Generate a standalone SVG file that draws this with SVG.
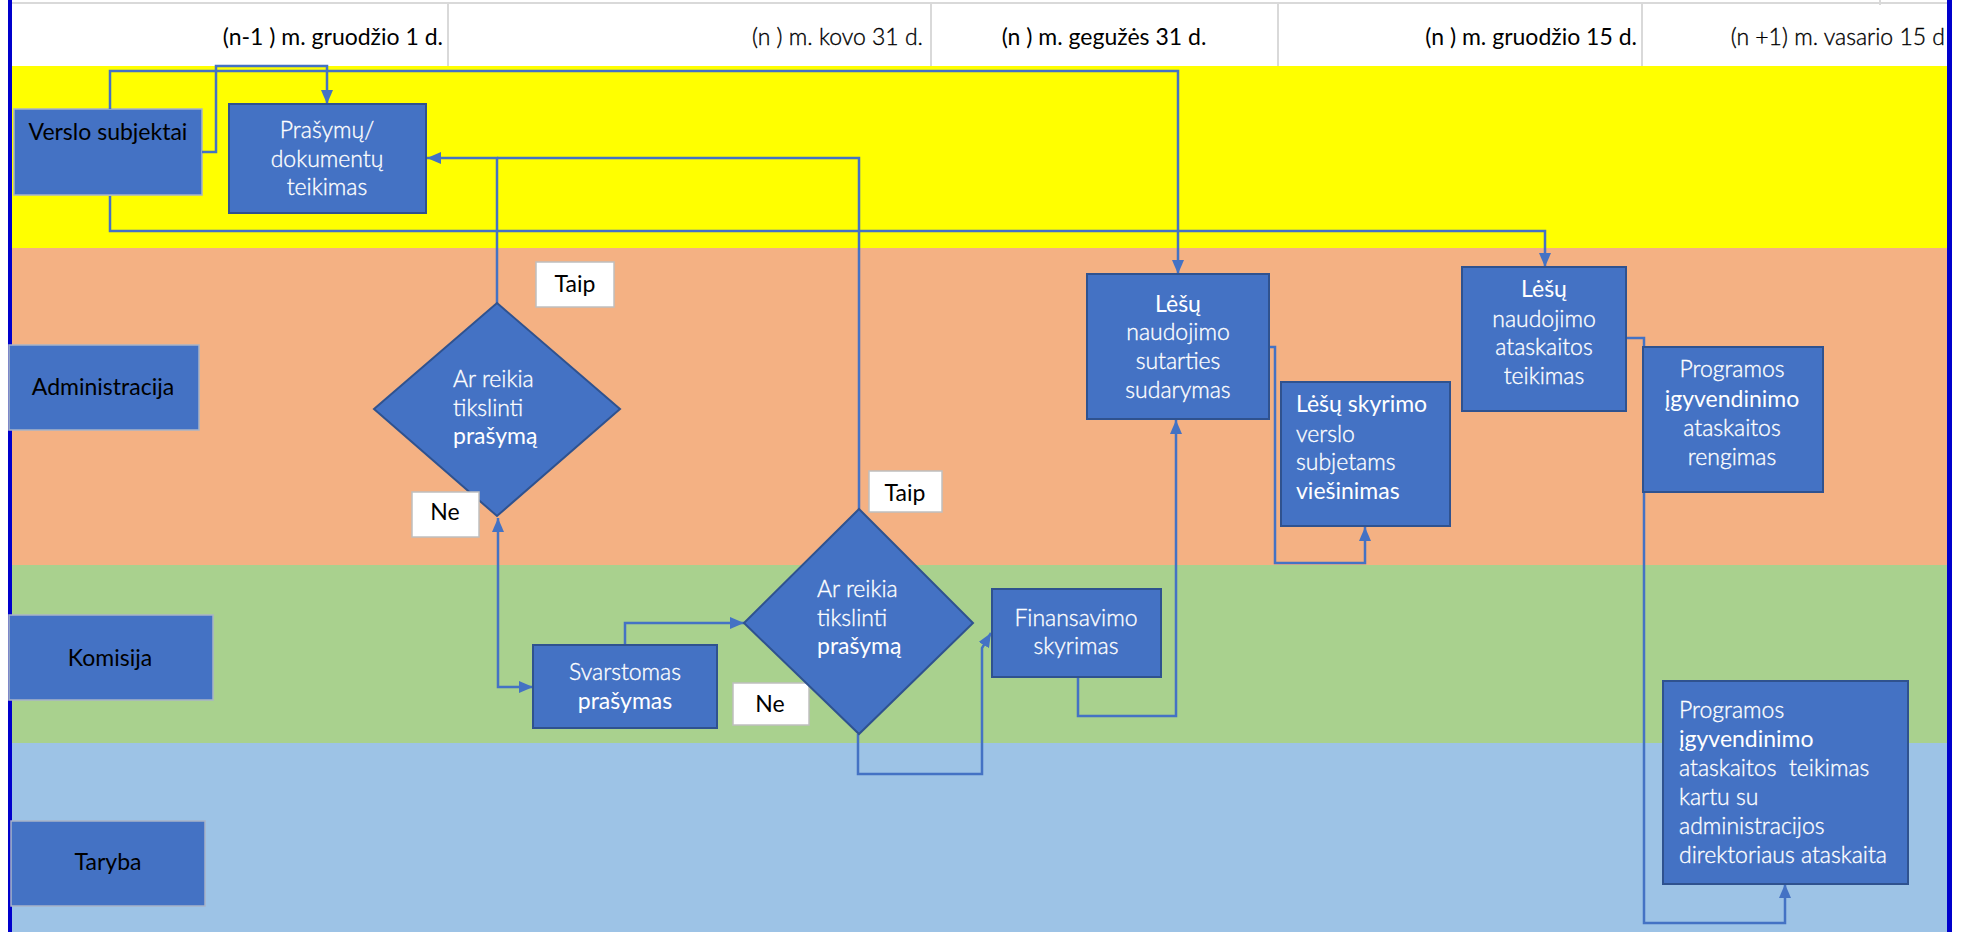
<svg xmlns="http://www.w3.org/2000/svg" width="1964" height="932" viewBox="0 0 1964 932">
<defs>
<marker id="arr" markerUnits="userSpaceOnUse" markerWidth="14" markerHeight="12" refX="14" refY="6" orient="auto-start-reverse">
<path d="M0,0 L14,6 L0,12 z" fill="#4472C4"/>
</marker>
</defs>
<style>
text{font-family:Lato,"Liberation Sans","DejaVu Sans",sans-serif;font-size:23px;font-weight:300;}
.b{font-weight:400;}
.hdr{fill:#000;}
.hdr.l{stroke:#000;stroke-width:0.35;}
.lane-lbl rect{fill:#4472C4;stroke:#a8b4c8;stroke-width:1.5;}
.lane-lbl text{fill:#000;text-anchor:middle;font-weight:400;}
.node rect,.node polygon{fill:#4472C4;stroke:#2F528F;stroke-width:2;}
.node text{fill:#fff;stroke:#fff;stroke-width:0.35;}
.node text.b{stroke:none;}
.c{text-anchor:middle;}
.tag rect{fill:#fff;stroke:#bfbfbf;stroke-width:1.5;}
.tag text{fill:#000;text-anchor:middle;font-weight:400;}
#connectors path{fill:none;stroke:#4472C4;stroke-width:2.5;}
</style>
<rect x="0" y="0" width="1964" height="932" fill="#fff"/>
<g id="lanes">
<rect x="11" y="66" width="1936" height="182" fill="#FFFF00"/>
<rect x="11" y="248" width="1936" height="317" fill="#F4B183"/>
<rect x="11" y="565" width="1936" height="178" fill="#A9D18E"/>
<rect x="11" y="743" width="1936" height="189" fill="#9DC3E6"/>
</g>
<g id="header">
<line x1="11" y1="3" x2="1947" y2="3" stroke="#d9d9d9" stroke-width="2"/>
<line x1="448" y1="3" x2="448" y2="66" stroke="#d9d9d9" stroke-width="2"/>
<line x1="931" y1="3" x2="931" y2="66" stroke="#d9d9d9" stroke-width="2"/>
<line x1="1278" y1="3" x2="1278" y2="66" stroke="#d9d9d9" stroke-width="2"/>
<line x1="1642" y1="3" x2="1642" y2="66" stroke="#d9d9d9" stroke-width="2"/>
<line x1="1880" y1="0" x2="1880" y2="5" stroke="#d9d9d9" stroke-width="2"/>
<text class="hdr b" x="443" y="45" text-anchor="end">(n-1 ) m. gruodžio 1 d.</text>
<text class="hdr l" x="923" y="45" text-anchor="end">(n ) m. kovo 31 d.</text>
<text class="hdr b" x="1104" y="45" text-anchor="middle">(n ) m. gegužės 31 d.</text>
<text class="hdr b" x="1637" y="45" text-anchor="end">(n ) m. gruodžio 15 d.</text>
<text class="hdr l" x="1945" y="45" text-anchor="end">(n +1) m. vasario 15 d</text>
</g>
<g id="borders">
<rect x="8" y="0" width="4" height="932" fill="#0000CC"/>
<rect x="1947" y="0" width="5" height="932" fill="#0000CC"/>
</g>
<g id="lane-verslo" class="lane-lbl">
<rect x="14" y="109" width="188" height="86"/>
<text x="108" y="140">Verslo subjektai</text>
</g>
<g id="lane-administracija" class="lane-lbl">
<rect x="9" y="345" width="190" height="85"/>
<text x="103" y="395">Administracija</text>
</g>
<g id="lane-komisija" class="lane-lbl">
<rect x="9" y="615" width="204" height="85"/>
<text x="110" y="666">Komisija</text>
</g>
<g id="lane-taryba" class="lane-lbl">
<rect x="11" y="821" width="194" height="85"/>
<text x="108" y="870">Taryba</text>
</g>
<g id="connectors">
<path d="M202,152 H216 V66 H327 V104" marker-end="url(#arr)"/>
<path d="M110,109 V71 H1178 V274" marker-end="url(#arr)"/>
<path d="M110,196 V231 H1545 V267" marker-end="url(#arr)"/>
<path d="M859,509 V158 H497"/>
<path d="M497,303 V158 H427" marker-end="url(#arr)"/>
<path d="M498,518 V687 H533" marker-start="url(#arr)" marker-end="url(#arr)"/>
<path d="M625,645 V623 H744" marker-end="url(#arr)"/>
<path d="M858,734 V774 H982 V648 L991,633" marker-end="url(#arr)"/>
<path d="M1078,677 V716 H1176 V420" marker-end="url(#arr)"/>
<path d="M1270,347 H1275 V563 H1365 V527" marker-end="url(#arr)"/>
<path d="M1626,338 H1644 V923 H1785 V884" marker-end="url(#arr)"/>
</g>
<g id="n-prasymu" class="node">
<rect x="229" y="104" width="197" height="109"/>
<text class="c" x="327" y="138">Prašymų/</text>
<text class="c" x="327" y="167">dokumentų</text>
<text class="c" x="327" y="195">teikimas</text>
</g>
<g id="n-diamond1" class="node">
<polygon points="497,303 620,409 497,516 374,409"/>
<text x="453" y="387">Ar reikia</text>
<text x="453" y="416">tikslinti</text>
<text class="b" x="453" y="444">prašymą</text>
</g>
<g id="t-taip1" class="tag">
<rect x="536" y="262" width="78" height="45"/>
<text x="575" y="292">Taip</text>
</g>
<g id="t-ne1" class="tag">
<rect x="412" y="492" width="67" height="45"/>
<text x="445" y="520">Ne</text>
</g>
<g id="n-svarstomas" class="node">
<rect x="533" y="645" width="184" height="83"/>
<text class="c" x="625" y="680">Svarstomas</text>
<text class="c b" x="625" y="709">prašymas</text>
</g>
<g id="t-ne2" class="tag">
<rect x="733" y="683" width="76" height="42"/>
<text x="770" y="712">Ne</text>
</g>
<g id="n-diamond2" class="node">
<polygon points="859,509 973,623 859,734 744,623"/>
<text x="817" y="597">Ar reikia</text>
<text x="817" y="626">tikslinti</text>
<text class="b" x="817" y="654">prašymą</text>
</g>
<g id="t-taip2" class="tag">
<rect x="869" y="471" width="73" height="41"/>
<text x="905" y="501">Taip</text>
</g>
<g id="n-finansavimo" class="node">
<rect x="992" y="589" width="169" height="88"/>
<text class="c" x="1076" y="626">Finansavimo</text>
<text class="c" x="1076" y="654">skyrimas</text>
</g>
<g id="n-sutarties" class="node">
<rect x="1087" y="274" width="182" height="145"/>
<text class="c b" x="1178" y="312">Lėšų</text>
<text class="c" x="1178" y="340">naudojimo</text>
<text class="c" x="1178" y="369">sutarties</text>
<text class="c" x="1178" y="398">sudarymas</text>
</g>
<g id="n-viesinimas" class="node">
<rect x="1281" y="382" width="169" height="144"/>
<text class="b" x="1296" y="412">Lėšų skyrimo</text>
<text x="1296" y="442">verslo</text>
<text x="1296" y="470">subjetams</text>
<text class="b" x="1296" y="499">viešinimas</text>
</g>
<g id="n-ataskaitos" class="node">
<rect x="1462" y="267" width="164" height="144"/>
<text class="c b" x="1544" y="297">Lėšų</text>
<text class="c" x="1544" y="327">naudojimo</text>
<text class="c" x="1544" y="355">ataskaitos</text>
<text class="c" x="1544" y="384">teikimas</text>
</g>
<g id="n-rengimas" class="node">
<rect x="1643" y="347" width="180" height="145"/>
<text class="c" x="1732" y="377">Programos</text>
<text class="c b" x="1732" y="407">įgyvendinimo</text>
<text class="c" x="1732" y="436">ataskaitos</text>
<text class="c" x="1732" y="465">rengimas</text>
</g>
<g id="n-teikimas" class="node">
<rect x="1663" y="681" width="245" height="203"/>
<text x="1679" y="718">Programos</text>
<text class="b" x="1679" y="747">įgyvendinimo</text>
<text x="1679" y="776" xml:space="preserve">ataskaitos  teikimas</text>
<text x="1679" y="805">kartu su</text>
<text x="1679" y="834">administracijos</text>
<text x="1679" y="863">direktoriaus ataskaita</text>
</g>
</svg>
